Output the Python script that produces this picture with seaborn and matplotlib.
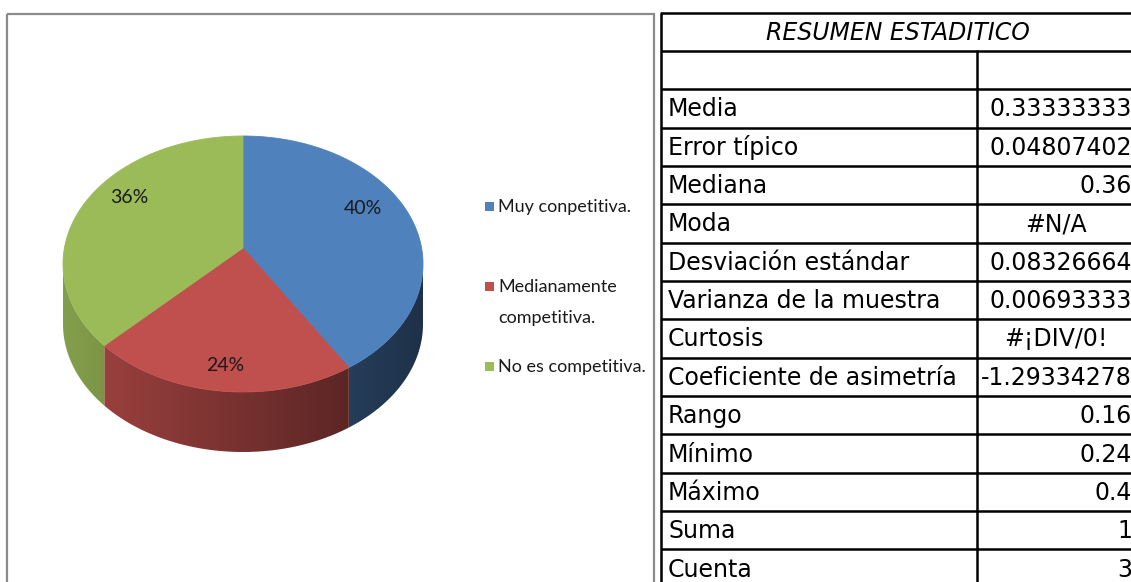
import numpy as np
import matplotlib
matplotlib.use("Agg")
import matplotlib.pyplot as plt
import seaborn as sns
from matplotlib.patches import Polygon, Rectangle

# ---------------- data ----------------
categories = ["Muy conpetitiva.", "Medianamente\ncompetitiva.", "No es competitiva."]
shares = [0.40, 0.24, 0.36]
pct_labels = ["40%", "24%", "36%"]
slice_colors = ["#4F81BD", "#C0504D", "#9BBB59"]

table_title = "RESUMEN ESTADITICO"
stat_names = ["Media", "Error típico", "Mediana", "Moda", "Desviación estándar",
              "Varianza de la muestra", "Curtosis", "Coeficiente de asimetría",
              "Rango", "Mínimo", "Máximo", "Suma", "Cuenta"]
stat_values = ["0.33333333", "0.04807402", "0.36", "#N/A", "0.08326664",
               "0.00693333", "#¡DIV/0!", "-1.29334278", "0.16", "0.24",
               "0.4", "1", "3"]

# ---------------- style ----------------
sns.set_theme(style="white")
plt.rcParams['font.family'] = ['DejaVu Sans']
NARROW = ['Lato', 'DejaVu Sans']

W, H = 1131, 582
fig = plt.figure(figsize=(W / 100, H / 100), dpi=100)
ax = fig.add_axes([0, 0, 1, 1])

# chart frame
ax.add_patch(Rectangle((6.5, 13.5), 647.5, 620, fill=False,
                       edgecolor="#8A8A8A", lw=1.6))

# ---------------- 3D pie ----------------
cx, cy_rim, cy_apex = 243, 264, 248
rx, ry = 180, 128
depth = 60
bounds = 90 - 360 * np.concatenate([[0], np.cumsum(shares)])


def rim(th_deg):
    th = np.radians(th_deg)
    return cx + rx * np.cos(th), cy_rim - ry * np.sin(th)


def shade(x):
    return 0.85 + (0.38 - 0.85) * (x - (cx - rx)) / (2 * rx)


ncol = 400
xs_grad = np.linspace(cx - rx, cx + rx, ncol)
for i, col in enumerate(slice_colors):
    a1, a2 = bounds[i], bounds[i + 1]  # a1 > a2 (clockwise)
    for lo_f, hi_f in [(-180, 0), (-540, -360), (180, 360)]:
        lo, hi = max(a2, lo_f), min(a1, hi_f)
        if hi <= lo:
            continue
        t = np.linspace(lo, hi, 120)
        xr, yr = rim(t)
        pts = np.column_stack([np.concatenate([xr, xr[::-1]]),
                               np.concatenate([yr, yr[::-1] + depth])])
        poly = Polygon(pts, closed=True, facecolor='none', edgecolor='none')
        ax.add_patch(poly)
        base = np.array(matplotlib.colors.to_rgb(col))
        img = np.clip(shade(xs_grad)[None, :, None] * base[None, None, :], 0, 1)
        img = np.repeat(img, 2, axis=0)
        im = ax.imshow(img, extent=(cx - rx, cx + rx, cy_rim + ry + depth + 5, cy_rim - ry - 5),
                       aspect='auto', interpolation='bilinear', zorder=2)
        im.set_clip_path(poly)

for i, col in enumerate(slice_colors):
    a1, a2 = bounds[i], bounds[i + 1]
    t = np.linspace(a1, a2, 200)
    xr, yr = rim(t)
    pts = np.column_stack([np.concatenate([[cx], xr]), np.concatenate([[cy_apex], yr])])
    ax.add_patch(Polygon(pts, closed=True, facecolor=col, edgecolor=col, lw=0.6, zorder=3))
    mid = np.radians((a1 + a2) / 2)
    back = np.sin(mid) > 0
    r = 0.7 if back else 0.8
    lift = 28 if back else 0
    lx = cx + r * rx * np.cos(mid)
    ly = cy_rim - r * ry * np.sin(mid) - lift
    ax.text(lx, ly, pct_labels[i], ha='center', va='center', fontsize=14,
            family=NARROW, color='#1a1a1a', zorder=4)

# legend
legend_y = [206, 286, 366]
line_gap = 31
for i, (lab, col) in enumerate(zip(categories, slice_colors)):
    y = legend_y[i]
    ax.add_patch(Rectangle((485, y - 4.5), 8.5, 9, facecolor=col, edgecolor='none'))
    for k, line in enumerate(lab.split("\n")):
        ax.text(498, y + 6 + k * line_gap, line, ha='left', va='baseline', fontsize=13,
                family=NARROW, color='#1a1a1a')

# ---------------- table ----------------
y0, rh = 12.5, 38.35
xl, xm, xr_ = 661, 977, 1135
nrows = len(stat_names) + 2
lw = 1.8
for k in range(nrows + 1):
    ax.plot([xl, xr_ + 5], [y0 + k * rh] * 2, color='black', lw=lw, solid_capstyle='butt')
ax.plot([xl, xl], [y0, H + 20], color='black', lw=lw)
ax.plot([xm, xm], [y0 + rh, H + 20], color='black', lw=lw)
ax.plot([xr_, xr_], [y0, H + 20], color='black', lw=lw)

ax.text((xl + xr_) / 2, y0 + rh / 2 + 1, table_title, ha='center', va='center',
        fontsize=17, style='italic', color='black')
for j, (nm, val) in enumerate(zip(stat_names, stat_values)):
    yc = y0 + (j + 2.5) * rh + 1
    ax.text(668, yc, nm, ha='left', va='center', fontsize=17, color='black')
    if val.startswith('#'):
        ax.text((xm + xr_) / 2, yc, val, ha='center', va='center', fontsize=17, color='black')
    else:
        ax.text(1132, yc, val, ha='right', va='center', fontsize=17, color='black')

ax.set_xlim(0, W)
ax.set_ylim(H, 0)
ax.axis('off')
fig.savefig("out.png", dpi=100, facecolor='white')
